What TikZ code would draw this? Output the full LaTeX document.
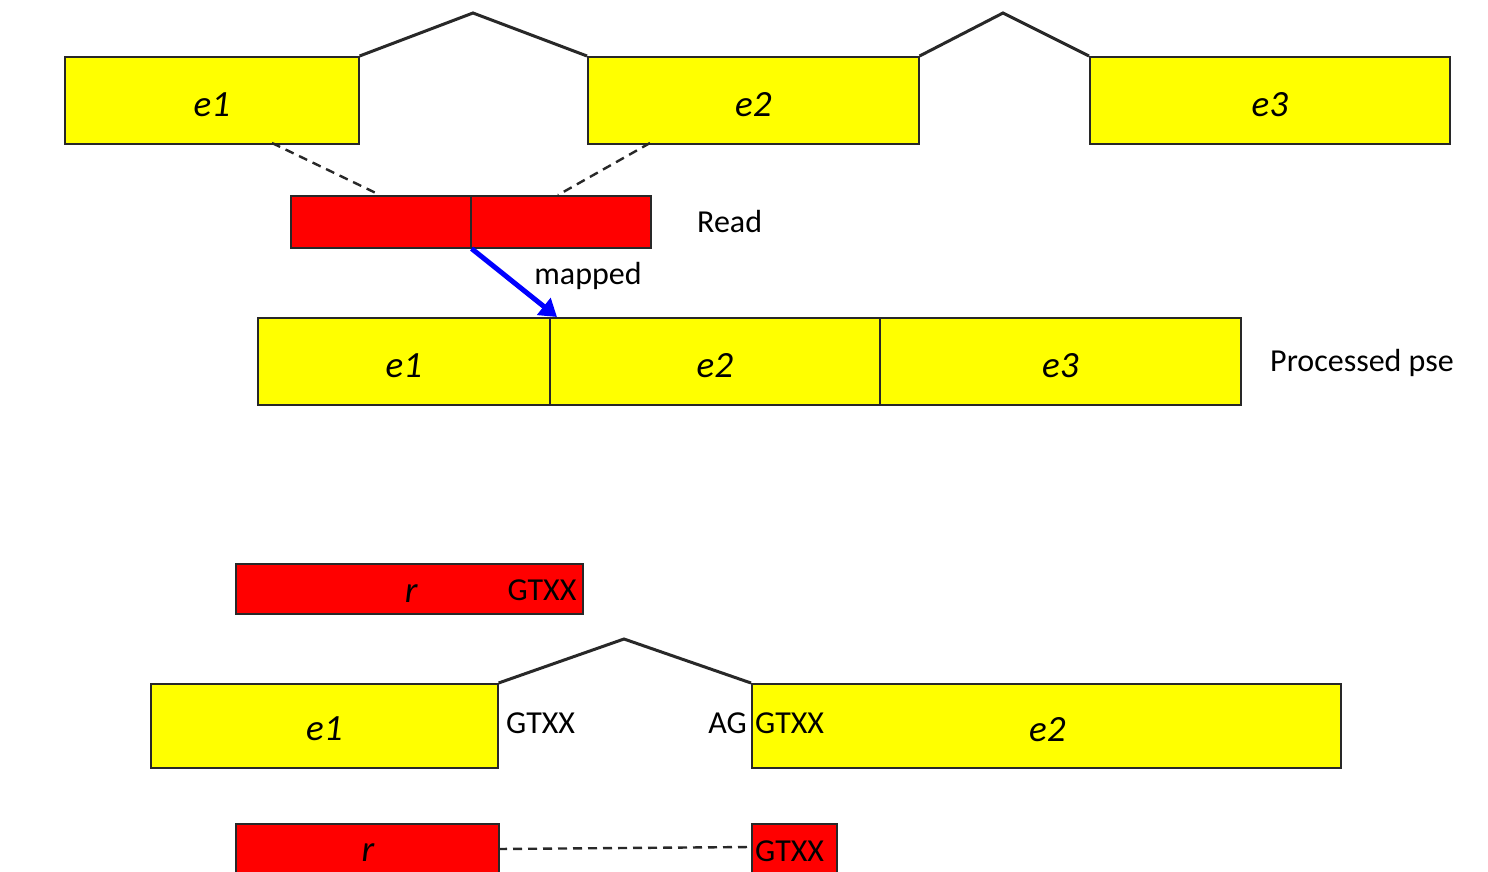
\documentclass[tikz,border=0pt]{standalone}
\usepackage{fontspec}
\setmainfont{Carlito}
\usetikzlibrary{arrows.meta,calc}
\definecolor{exony}{RGB}{255,255,0}
\definecolor{readr}{RGB}{255,0,0}
\definecolor{mapb}{RGB}{0,0,255}
\definecolor{edge}{RGB}{40,40,40}
\begin{document}
\begin{tikzpicture}[x=1pt,y=-1pt,
 exon/.style={draw=edge, line width=1.6pt, fill=exony, inner sep=0pt, anchor=north west},
 readbox/.style={draw=edge, line width=1.6pt, fill=readr, inner sep=0pt, anchor=north west},
 lbl/.style={font=\fontsize{32}{38}\selectfont, inner sep=0pt},
 elbl/.style={font=\fontsize{37}{42}\selectfont\itshape, inner sep=0pt},
 intron/.style={draw=edge, line width=3pt, line join=miter},
 dashline/.style={draw=edge, line width=2.4pt, dash pattern=on 9pt off 6pt},
 maparrow/.style={draw=mapb, line width=5pt, -{Triangle[length=17pt,width=21pt]}}]
\useasboundingbox (0,0) rectangle (1488,872);
\clip (0,0) rectangle (1488,872);
\fill[white] (0,0) rectangle (1488,872);
% ---------- top: gene ----------
\node[exon, minimum width=294pt, minimum height=87pt] (te1) at (64,56) {};
\node[exon, minimum width=331pt, minimum height=87pt] (te2) at (587,56) {};
\node[exon, minimum width=360pt, minimum height=87pt] (te3) at (1089,56) {};
\node[elbl] at ($(te1.center)+(0,4)$) {e1};
\node[elbl] at ($(te2.center)+(0,4)$) {e2};
\node[elbl] at ($(te3.center)+(0,4)$) {e3};
\coordinate (p1) at (473,13);
\coordinate (p2) at (1003,13);
\draw[intron] (te1.north east) -- (p1) -- (te2.north west);
\draw[intron] (te2.north east) -- (p2) -- (te3.north west);
% ---------- read ----------
\node[readbox, minimum width=180pt, minimum height=52pt] (r1) at (290,195) {};
\node[readbox, minimum width=180pt, minimum height=52pt] (r2) at (470,195) {};
\coordinate (d1a) at (272,143);
\coordinate (d1b) at (380,195);
\coordinate (d2a) at (650,143);
\coordinate (d2b) at (558,195);
\draw[dashline] (d1a) -- (d1b);
\draw[dashline] (d2a) -- (d2b);
\node[lbl, anchor=west] (readlbl) at (697,222) {Read};
% ---------- processed ----------
\node[exon, minimum width=292pt, minimum height=87pt] (pe1) at (257,317) {};
\node[exon, minimum width=330pt, minimum height=87pt] (pe2) at (549,317) {};
\node[exon, minimum width=361pt, minimum height=87pt] (pe3) at (879,317) {};
\node[elbl] at ($(pe1.center)+(0,4)$) {e1};
\node[elbl] at ($(pe2.center)+(0,4)$) {e2};
\node[elbl] at ($(pe3.center)+(0,4)$) {e3};
\node[lbl, anchor=west] (proclbl) at (1270,363) {Processed pse};
\coordinate (tip) at (557,317);
\draw[maparrow] (r1.south east) -- (tip);
\node[lbl] (maplbl) at (588,276) {mapped};
% ---------- bottom ----------
\node[readbox, minimum width=347pt, minimum height=50pt] (rt) at (235,563) {};
\node[elbl] at ($(rt.center)+(2,5)$) {r};
\node[lbl, anchor=east] (rtg) at ($(rt.east)+(-7,1)$) {GTXX};
\node[exon, minimum width=347pt, minimum height=84pt] (be1) at (150,683) {};
\node[elbl] at ($(be1.center)+(0,3)$) {e1};
\node[exon, minimum width=589pt, minimum height=84pt] (be2) at (751,683) {};
\node[elbl] at ($(be2.center)+(1,4)$) {e2};
\coordinate (p3) at (624,639);
\draw[intron] (be1.north east) -- (p3) -- (be2.north west);
\node[lbl, anchor=west] (g1) at (506,723) {GTXX};
\node[lbl, anchor=east] (ag) at (747,723) {AG};
\node[lbl, anchor=west] (g2) at (755,723) {GTXX};
\node[readbox, minimum width=263pt, minimum height=60pt] (rb1) at (235,823) {};
\node[elbl] at (368,853) {r};
\node[readbox, minimum width=85pt, minimum height=60pt] (rb2) at (751,823) {};
\node[lbl, anchor=west] (g3) at (755,851) {GTXX};
\coordinate (da) at (498,849);
\coordinate (db) at (751,847);
\draw[dashline] (da) -- (db);
\end{tikzpicture}
\end{document}
